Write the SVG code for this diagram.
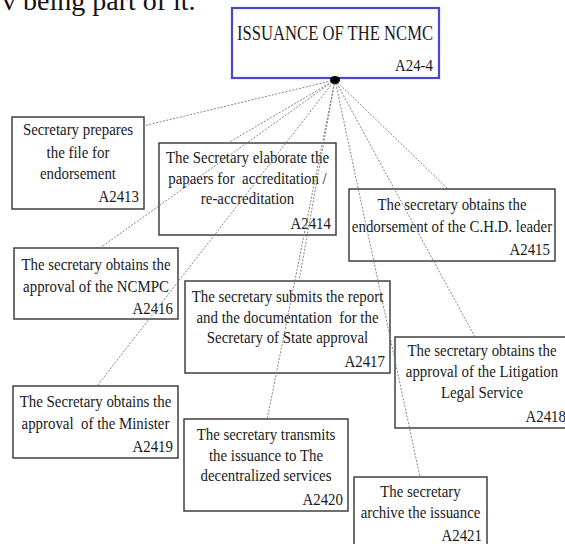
<svg xmlns="http://www.w3.org/2000/svg" width="565" height="544" viewBox="0 0 565 544">
<style>
.box{fill:none;stroke:#333;stroke-width:1.4}
.t{font-family:"Liberation Serif","Times New Roman",serif;font-size:16px;fill:#1a1a1a;text-anchor:middle}
.id{font-family:"Liberation Serif","Times New Roman",serif;font-size:16px;fill:#1a1a1a;text-anchor:end}
.c{stroke:#777;stroke-width:0.9;stroke-dasharray:2 1.5;fill:none}
</style>
<rect width="565" height="544" fill="#fff"/>
<text x="2" y="10" style="font-family:'Liberation Serif','Times New Roman',serif;font-size:28px;fill:#111">v being part of it.</text>

<g id="A24-4">
<rect x="232" y="8" width="207" height="70" fill="#fff" stroke="#4a48c4" stroke-width="2.2"/>
<text x="335" y="40" textLength="196" lengthAdjust="spacingAndGlyphs" style="font-family:'Liberation Serif','Times New Roman',serif;font-size:20px;fill:#1a1a1a;text-anchor:middle">ISSUANCE OF THE NCMC</text>
<text class="id" x="433" y="71" transform="matrix(0.93 0 0 1 30.31 0)">A24-4</text>
</g>

<g id="A2413">
<rect class="box" x="12" y="117" width="132" height="92"/>
<text class="t" x="78" y="135" transform="matrix(0.93 0 0 1 5.46 0)">Secretary prepares</text>
<text class="t" x="78" y="158" transform="matrix(0.93 0 0 1 5.46 0)">the file for</text>
<text class="t" x="78" y="179" transform="matrix(0.93 0 0 1 5.46 0)">endorsement</text>
<text class="id" x="139" y="202" transform="matrix(0.93 0 0 1 9.73 0)">A2413</text>
</g>

<g id="A2414">
<rect class="box" x="159" y="143" width="177" height="92"/>
<text class="t" x="247.5" y="163" transform="matrix(0.93 0 0 1 17.325 0)">The Secretary elaborate the</text>
<text class="t" x="247.5" y="184" xml:space="preserve" transform="matrix(0.93 0 0 1 17.325 0)">papaers for  accreditation /</text>
<text class="t" x="247.5" y="204" transform="matrix(0.93 0 0 1 17.325 0)">re-accreditation</text>
<text class="id" x="331" y="229" transform="matrix(0.93 0 0 1 23.17 0)">A2414</text>
</g>

<g id="A2415">
<rect class="box" x="349" y="189" width="206" height="72"/>
<text class="t" x="452" y="210" transform="matrix(0.93 0 0 1 31.64 0)">The secretary obtains the</text>
<text class="t" x="452" y="232" transform="matrix(0.93 0 0 1 31.64 0)">endorsement of the C.H.D. leader</text>
<text class="id" x="550" y="255" transform="matrix(0.93 0 0 1 38.5 0)">A2415</text>
</g>

<g id="A2416">
<rect class="box" x="14" y="248" width="164" height="71"/>
<text class="t" x="96" y="270" transform="matrix(0.93 0 0 1 6.72 0)">The secretary obtains the</text>
<text class="t" x="96" y="292" transform="matrix(0.93 0 0 1 6.72 0)">approval of the NCMPC</text>
<text class="id" x="173" y="314" transform="matrix(0.93 0 0 1 12.11 0)">A2416</text>
</g>

<g id="A2417">
<rect class="box" x="185" y="281" width="205" height="92"/>
<text class="t" x="287.5" y="302" transform="matrix(0.93 0 0 1 20.125 0)">The secretary submits the report</text>
<text class="t" x="287.5" y="323" xml:space="preserve" transform="matrix(0.93 0 0 1 20.125 0)">and the documentation  for the</text>
<text class="t" x="287.5" y="343" transform="matrix(0.93 0 0 1 20.125 0)">Secretary of State approval</text>
<text class="id" x="385" y="367" transform="matrix(0.93 0 0 1 26.95 0)">A2417</text>
</g>

<g id="A2418">
<rect class="box" x="395" y="337" width="175" height="91"/>
<text class="t" x="482" y="356" transform="matrix(0.93 0 0 1 33.74 0)">The secretary obtains the</text>
<text class="t" x="482" y="377" transform="matrix(0.93 0 0 1 33.74 0)">approval of the Litigation</text>
<text class="t" x="482" y="398" transform="matrix(0.93 0 0 1 33.74 0)">Legal Service</text>
<text class="id" x="566" y="422" transform="matrix(0.93 0 0 1 39.62 0)">A2418</text>
</g>

<g id="A2419">
<rect class="box" x="13" y="386" width="165" height="72"/>
<text class="t" x="95.5" y="407" transform="matrix(0.93 0 0 1 6.685 0)">The Secretary obtains the</text>
<text class="t" x="95.5" y="429" xml:space="preserve" transform="matrix(0.93 0 0 1 6.685 0)">approval  of the Minister</text>
<text class="id" x="173" y="452" transform="matrix(0.93 0 0 1 12.11 0)">A2419</text>
</g>

<g id="A2420">
<rect class="box" x="184" y="419" width="164" height="92"/>
<text class="t" x="266" y="440" transform="matrix(0.93 0 0 1 18.62 0)">The secretary transmits</text>
<text class="t" x="266" y="461" transform="matrix(0.93 0 0 1 18.62 0)">the issuance to The</text>
<text class="t" x="266" y="481" transform="matrix(0.93 0 0 1 18.62 0)">decentralized services</text>
<text class="id" x="343" y="505" transform="matrix(0.93 0 0 1 24.01 0)">A2420</text>
</g>

<g id="A2421">
<rect class="box" x="354" y="477" width="133" height="72"/>
<text class="t" x="420.5" y="497" transform="matrix(0.93 0 0 1 29.435 0)">The secretary</text>
<text class="t" x="420.5" y="518" transform="matrix(0.93 0 0 1 29.435 0)">archive the issuance</text>
<text class="id" x="482" y="541" transform="matrix(0.93 0 0 1 33.74 0)">A2421</text>
</g>

<g id="connectors">
<line class="c" x1="335" y1="80" x2="143" y2="126"/>
<line class="c" x1="335" y1="80" x2="228" y2="143"/>
<line class="c" x1="335" y1="80" x2="100" y2="248"/>
<line class="c" x1="335" y1="80" x2="97" y2="386"/>
<line class="c" x1="335" y1="80" x2="299" y2="281"/>
<line class="c" x1="335" y1="80" x2="267" y2="420"/>
<line class="c" x1="335" y1="80" x2="420" y2="477"/>
<line class="c" x1="335" y1="80" x2="475" y2="337"/>
<line class="c" x1="335" y1="80" x2="448" y2="189"/>
<ellipse cx="335" cy="80" rx="5" ry="4" fill="#000"/>
</g>
</svg>
